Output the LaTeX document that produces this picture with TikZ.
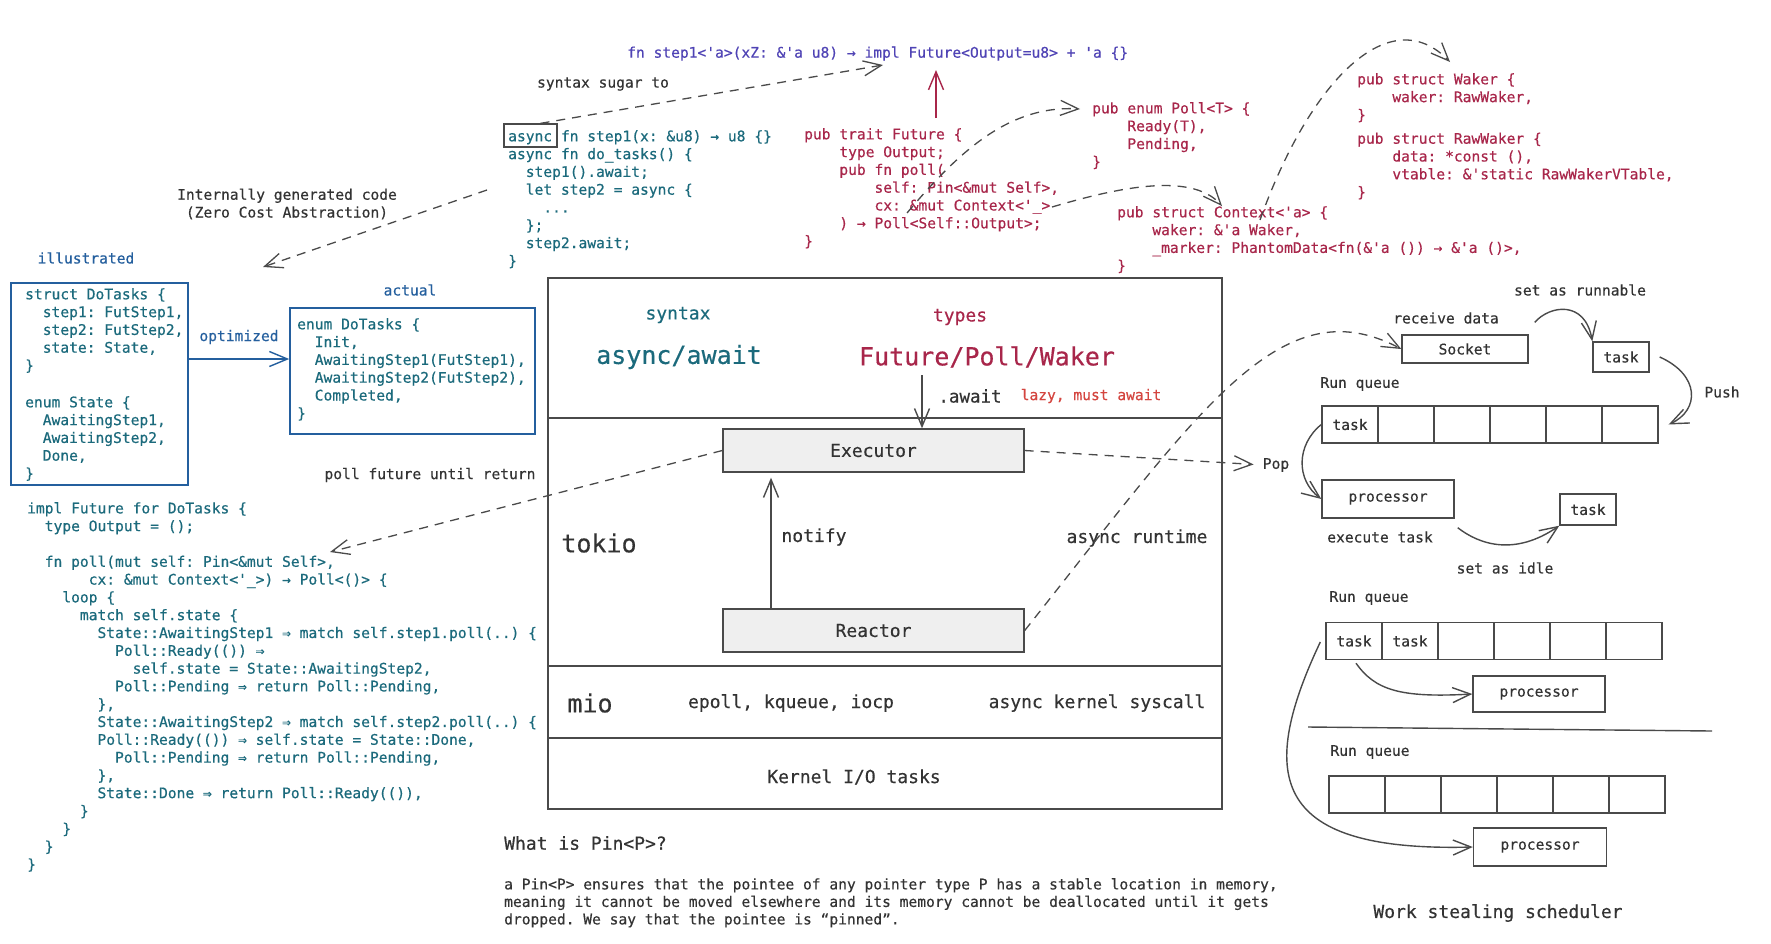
\documentclass[tikz,border=0pt]{standalone}
\usepackage{fontspec}
\setmonofont{DejaVu Sans Mono}[FakeBold=0.4]
\renewcommand{\familydefault}{\ttdefault}
\usetikzlibrary{arrows.meta}
\frenchspacing

\definecolor{codeteal}{HTML}{1B6A7C}
\definecolor{boxblue}{HTML}{245F9E}
\definecolor{codered}{HTML}{A8264A}
\definecolor{lazyred}{HTML}{D4453F}
\definecolor{codepurple}{HTML}{4F43B5}
\definecolor{ink}{HTML}{333333}
\definecolor{penline}{HTML}{4A4A4A}
\definecolor{hatch}{HTML}{EFEFEF}

\tikzset{
  codeblk/.style={font=\fontsize{14.6}{17.8}\selectfont, align=left, anchor=north west, inner sep=0pt, execute at begin node=\strut},
  lbl/.style={font=\fontsize{14.6}{17.8}\selectfont, text=ink, inner sep=0pt},
  midlbl/.style={font=\fontsize{18}{21}\selectfont, text=ink, inner sep=0pt},
  biglbl/.style={font=\fontsize{25}{29}\selectfont, text=ink, inner sep=0pt},
  stacklayer/.style={draw=penline, line width=1.6pt, minimum width=674pt, inner sep=0pt},
  enginebox/.style={draw=penline, line width=1.4pt, fill=hatch, minimum width=301pt, minimum height=43pt, font=\fontsize{18}{21}\selectfont, text=ink},
  cell/.style={draw=penline, line width=1.4pt, inner sep=0pt, font=\fontsize{14.6}{17.8}\selectfont, text=ink},
  barb/.style={-{Straight Barb[length=18pt,width=15pt]}},
  flowarrow/.style={barb, draw=penline, line width=1.3pt, dash pattern=on 9pt off 7pt},
  penarrow/.style={barb, draw=penline, line width=1.4pt},
}

\begin{document}
\begin{tikzpicture}[x=1pt,y=-1pt]
\fill[white] (0,0) rectangle (1771,943);
\useasboundingbox (0,0) rectangle (1771,943);

% top: async fn and the types it stands for
\node[codeblk, text=codepurple] (desugared) at (627,45) {fn step1<'a>(xZ: \&'a u8) → impl Future<Output=u8> + 'a \{\}};
\node[lbl] (sugar) at (603,84) {syntax sugar to};
\node[codeblk, text=codeteal] (sugarcode) at (508,130) {async fn step1(x: \&u8) → u8 \{\}\\
async fn do\_tasks() \{\\
~~step1().await;\\
~~let step2 = async \{\\
~~~~...\\
~~\};\\
~~step2.await;\\
\}};
\node[draw=penline, line width=1.3pt, minimum width=53pt, minimum height=23pt, inner sep=0pt] (asyncbox) at (530.5,135.5) {};

\node[codeblk, text=codered] (traitcode) at (804,128) {pub trait Future \{\\
~~~~type Output;\\
~~~~pub fn poll(\\
~~~~~~~~self: Pin<\&mut Self>,\\
~~~~~~~~cx: \&mut Context<'\_>\\
~~~~) → Poll<Self::Output>;\\
\}};
\node[codeblk, text=codered] (pollcode) at (1092,102) {pub enum Poll<T> \{\\
~~~~Ready(T),\\
~~~~Pending,\\
\}};
\node[codeblk, text=codered] (ctxcode) at (1117,206) {pub struct Context<'a> \{\\
~~~~waker: \&'a Waker,\\
~~~~\_marker: PhantomData<fn(\&'a ()) → \&'a ()>,\\
\}};
\node[codeblk, text=codered] (wakercode) at (1357,73) {pub struct Waker \{\\
~~~~waker: RawWaker,\\
\}\\[6pt]
pub struct RawWaker \{\\
~~~~data: *const (),\\
~~~~vtable: \&'static RawWakerVTable,\\
\}};

\coordinate (sugarend) at (883,65);
\coordinate (pollfrom) at (907,213);
\coordinate (ctxfrom) at (1052,207);
\coordinate (wakerfrom) at (1260,220);
\draw[flowarrow] ([xshift=10pt]asyncbox.north) -- (sugarend);
\draw[penarrow, draw=codered] ([xshift=132pt,yshift=10pt]traitcode.north west) -- ++(0,-48);
\draw[flowarrow] (pollfrom) .. controls (960,150) and (1010,105) .. ([shift={(-12pt,-7pt)}]pollcode.north west);
\draw[flowarrow] (ctxfrom) .. controls (1110,190) and (1190,170) .. ([xshift=105pt]ctxcode.north west);
\draw[flowarrow] (wakerfrom) .. controls (1310,80) and (1390,0) .. ([shift={(93pt,11pt)}]wakercode.north west);

% generated state machine
\coordinate (genstart) at (487,190);
\coordinate (genend) at (263,267);
\node[lbl, align=center] (internal) at (287,204) {Internally generated code\\(Zero Cost Abstraction)};
\draw[flowarrow] (genstart) -- (genend);

\node[lbl, text=boxblue] (illus) at (86,258) {illustrated};
\node[lbl, text=boxblue] (actual) at (410,290) {actual};
\node[lbl, text=boxblue] (optim) at (239,337) {optimized};
\node[draw=boxblue, line width=1.6pt, minimum width=177pt, minimum height=202pt] (illusbox) at (99.5,384) {};
\node[draw=boxblue, line width=1.6pt, minimum width=245pt, minimum height=126pt] (actualbox) at (412.5,371) {};
\draw[barb, draw=boxblue, line width=1.4pt] (illusbox.east |- 0,359) -- (actualbox.west |- 0,359);

\node[codeblk, text=codeteal] (illuscode) at (25,288) {struct DoTasks \{\\
~~step1: FutStep1,\\
~~step2: FutStep2,\\
~~state: State,\\
\}\\[19pt]
enum State \{\\
~~AwaitingStep1,\\
~~AwaitingStep2,\\
~~Done,\\
\}};
\node[codeblk, text=codeteal] (actualcode) at (297,318) {enum DoTasks \{\\
~~Init,\\
~~AwaitingStep1(FutStep1),\\
~~AwaitingStep2(FutStep2),\\
~~Completed,\\
\}};

\node[codeblk, text=codeteal] (implcode) at (27,502) {impl Future for DoTasks \{\\
~~type Output = ();\\[17.8pt]
~~fn poll(mut self: Pin<\&mut Self>,\\
~~~~~~~cx: \&mut Context<'\_>) → Poll<()> \{\\
~~~~loop \{\\
~~~~~~match self.state \{\\
~~~~~~~~State::AwaitingStep1 ⇒ match self.step1.poll(..) \{\\
~~~~~~~~~~Poll::Ready(()) ⇒\\
~~~~~~~~~~~~self.state = State::AwaitingStep2,\\
~~~~~~~~~~Poll::Pending ⇒ return Poll::Pending,\\
~~~~~~~~\},\\
~~~~~~~~State::AwaitingStep2 ⇒ match self.step2.poll(..) \{\\
~~~~~~~~Poll::Ready(()) ⇒ self.state = State::Done,\\
~~~~~~~~~~Poll::Pending ⇒ return Poll::Pending,\\
~~~~~~~~\},\\
~~~~~~~~State::Done ⇒ return Poll::Ready(()),\\
~~~~~~\}\\
~~~~\}\\
~~\}\\
\}};
\node[lbl] (pollret) at (430,475) {poll future until return};
\coordinate (pollfn) at (330,552);

% the stack
\foreach \n/\c/\h in {syntaxlayer/348/140, tokiolayer/542/248, miolayer/702/72, kernellayer/773.5/71}
  \node[stacklayer, minimum height=\h pt] (\n) at (885,\c) {};

\node[midlbl, text=codeteal] (syntaxlbl) at (678,315) {syntax};
\node[biglbl, text=codeteal] (asyncawait) at (679,357) {async/await};
\node[midlbl, text=codered] (typeslbl) at (960,317) {types};
\node[biglbl, text=codered] (futtypes) at (987,357) {Future/Poll/Waker};
\node[font=\fontsize{17.5}{20}\selectfont, text=ink, inner sep=0pt] (awaitlbl) at (970,396) {.await};
\node[lbl, text=lazyred] (lazy) at (1091,396) {lazy, must await};

\node[enginebox] (executor) at (873.5,450.5) {Executor};
\node[enginebox] (reactor) at (873.5,630.5) {Reactor};
\node[biglbl] (tokio) at (599,543) {tokio};
\node[midlbl] (notify) at (814,537) {notify};
\node[midlbl] (runtime) at (1137,538) {async runtime};
\node[biglbl] (mio) at (590,703) {mio};
\node[midlbl] (epoll) at (791,703) {epoll, kqueue, iocp};
\node[midlbl] (syscall) at (1097,703) {async kernel syscall};
\node[midlbl] (kernelio) at (854,777) {Kernel I/O tasks};

\draw[penarrow] ([xshift=48.5pt]executor.north) ++(0,-53) -- ([xshift=48.5pt]executor.north);
\draw[penarrow] ([xshift=-102.5pt]reactor.north) -- ([xshift=-102.5pt,yshift=-5pt]executor.south);
\draw[flowarrow] (executor.west) -- (pollfn);

% work stealing scheduler
\foreach \q/\x/\y in {qa/1322/424.5, qb/1326/641, qc/1329/794.5}
  \foreach \i in {1,...,6}
    \node[cell, minimum width=56pt, minimum height=37pt] (\q\i) at ({\x+56*(\i-0.5)},\y) {};
\node[lbl] (qatask) at (qa1) {task};
\node[lbl] (qbtaska) at (qb1) {task};
\node[lbl] (qbtaskb) at (qb2) {task};

\node[cell, minimum width=126pt, minimum height=28pt] (socket) at (1465,349) {Socket};
\node[cell, minimum width=56pt, minimum height=30pt] (runtask) at (1621,357) {task};
\node[cell, minimum width=132pt, minimum height=38pt] (proca) at (1388,499) {processor};
\node[cell, minimum width=56pt, minimum height=31pt] (idletask) at (1588,509.5) {task};
\node[cell, minimum width=132pt, minimum height=36pt] (procb) at (1539,694) {processor};
\node[cell, minimum width=133pt, minimum height=38pt] (procc) at (1540,847) {processor};

\node[lbl] (receive) at (1446,318) {receive data};
\node[lbl] (runnable) at (1580,290) {set as runnable};
\node[lbl] (push) at (1722,392) {Push};
\node[lbl] (runqa) at (1360,384) {Run queue};
\node[lbl] (pop) at (1276,465) {Pop};
\node[lbl] (exectask) at (1380,537) {execute task};
\node[lbl] (idle) at (1505,568) {set as idle};
\node[lbl] (runqb) at (1369,598) {Run queue};
\node[lbl] (runqc) at (1370,752) {Run queue};
\node[midlbl] (stealing) at (1498,913) {Work stealing scheduler};

\draw[flowarrow, shorten >=9pt] (executor.east) -- (pop.west);
\draw[flowarrow] (reactor.east) .. controls (1200,410) and (1280,285) .. (socket.west);
\draw[penarrow] (socket.north east) ++(6,-12) .. controls (1550,305) and (1585,300) .. (runtask.north west);
\draw[penarrow] ([xshift=10pt]runtask.east) .. controls (1700,375) and (1700,410) .. ([xshift=10pt]qa6.east);
\draw[penarrow] (qa1.west) .. controls (1296,445) and (1296,480) .. (proca.west);
\draw[penarrow] (proca.south east) ++(3,9) .. controls (1480,545) and (1515,556) .. (idletask.south west);
\draw[penarrow] (qb1.south) ++(2,3) .. controls (1375,690) and (1400,698) .. (procb.west);
\draw[penarrow] (qb1.west) ++(-5,1) .. controls (1255,780) and (1275,852) .. (procc.west);
\draw[penline, line width=1.4pt] (1308,727) -- (1712,731);

% Pin
\node[midlbl, anchor=west] (pinq) at (504,843) {What is Pin<P>?};
\node[codeblk, text=ink, font=\fontsize{14.6}{17.5}\selectfont] (pintext) at (504,878) {a Pin<P> ensures that the pointee of any pointer type P has a stable location in memory,\\
meaning it cannot be moved elsewhere and its memory cannot be deallocated until it gets\\
dropped. We say that the pointee is “pinned”.};
\end{tikzpicture}
\end{document}
